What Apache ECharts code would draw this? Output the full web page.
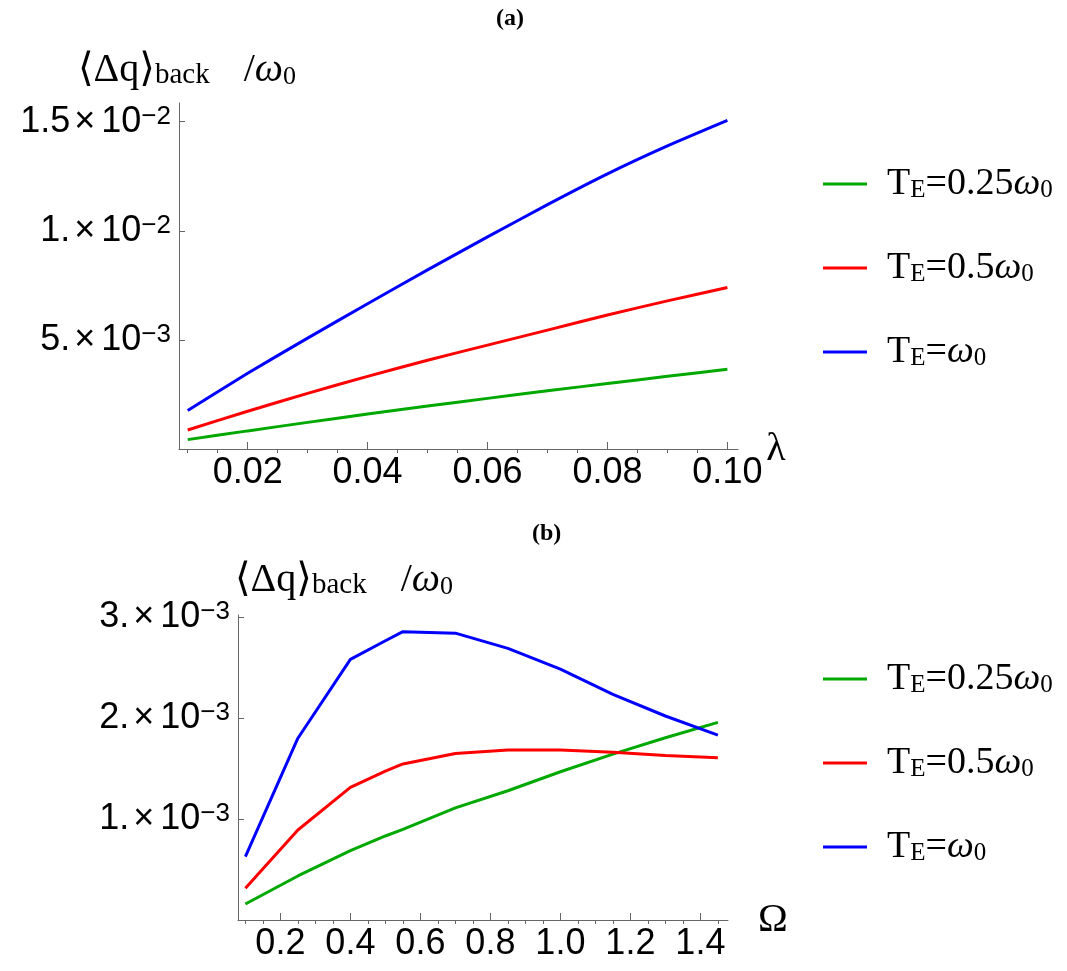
<!DOCTYPE html>
<html>
<head>
<meta charset="utf-8">
<title>Back-action displacement vs coupling and frequency</title>
<script src="https://cdn.jsdelivr.net/npm/echarts@6.0.0/dist/echarts.min.js"></script>
<style>
  html, body { margin: 0; padding: 0; background: #ffffff; }
  #chart { width: 1067px; height: 971px; }
</style>
</head>
<body>
<div id="chart"></div>
<script>
// ---------- data ----------
// panel (a): coupling strength lambda
const lambdaVals = [0.01, 0.02, 0.03, 0.04, 0.05, 0.06, 0.07, 0.08, 0.09, 0.10];
// <dq>_back / omega_0, in units of 1e-3
const dqA_TE025 = [0.43, 0.83, 1.22, 1.60, 1.97, 2.32, 2.67, 3.00, 3.33, 3.66];
const dqA_TE05  = [0.87, 1.73, 2.55, 3.33, 4.07, 4.76, 5.45, 6.14, 6.79, 7.40];
const dqA_TE1   = [1.76, 3.47, 5.08, 6.66, 8.21, 9.72, 11.20, 12.61, 13.89, 15.06];

// panel (b): frequency Omega
const omegaVals = [0.10, 0.25, 0.40, 0.50, 0.55, 0.70, 0.85, 1.00, 1.15, 1.30, 1.45];
const dqB_TE025 = [0.158, 0.436, 0.686, 0.832, 0.898, 1.110, 1.280, 1.468, 1.643, 1.805, 1.957];
const dqB_TE05  = [0.314, 0.891, 1.314, 1.475, 1.545, 1.648, 1.683, 1.683, 1.660, 1.630, 1.607];
const dqB_TE1   = [0.627, 1.800, 2.580, 2.765, 2.855, 2.840, 2.690, 2.485, 2.235, 2.020, 1.830];

const Y_UNIT = 1e-3;

// series names and the temperature coefficient shown in the legend
const teNames = ['T_E=0.25ω_0', 'T_E=0.5ω_0', 'T_E=ω_0'];
const teCoef  = ['0.25', '0.5', ''];
const teColors = ['#00a800', '#ff0000', '#0000ff'];

// tick values and labels
const xTickA  = [0.02, 0.04, 0.06, 0.08, 0.10];
const xMinorA = [0.010, 0.015, 0.025, 0.030, 0.035, 0.045, 0.050, 0.055,
                 0.065, 0.070, 0.075, 0.085, 0.090, 0.095];
const yTickA  = [0.005, 0.010, 0.015];
const yMantA  = ['5.', '1.', '1.5'];
const yExpA   = ['−3', '−2', '−2'];

const xTickB  = [0.2, 0.4, 0.6, 0.8, 1.0, 1.2, 1.4];
const xMinorB = [0.10, 0.15, 0.25, 0.30, 0.35, 0.45, 0.50, 0.55, 0.65, 0.70, 0.75,
                 0.85, 0.90, 0.95, 1.05, 1.10, 1.15, 1.25, 1.30, 1.35, 1.45];
const yTickB  = [0.001, 0.002, 0.003];
const yMantB  = ['1.', '2.', '3.'];
const yExpB   = ['−3', '−3', '−3'];

// ---------- styling helpers ----------
const SERIF = '"Liberation Serif", "Times New Roman", "DejaVu Serif", serif';
const SANS  = '"Liberation Sans", Arial, sans-serif';
const AXIS_COLOR = '#666666';

const tickRich = {
  m: { fontFamily: SANS, fontSize: 36, lineHeight: 36, verticalAlign: 'bottom', color: '#000' },
  x: { fontFamily: SANS, fontSize: 36, lineHeight: 36, verticalAlign: 'bottom', color: '#000', padding: [0, 6, 0, 4] },
  s: { fontFamily: SANS, fontSize: 26, lineHeight: 18, verticalAlign: 'top', color: '#000' }
};

function sciFormatter(ticks, mant, exps) {
  return function (v) {
    const i = ticks.findIndex(t => Math.abs(t - v) < 1e-9);
    if (i < 0) return '';
    return '{m|' + mant[i] + '}{x|×}{m|10}{s|' + exps[i] + '}';
  };
}

const nameBase = { fontFamily: SERIF, fontWeight: 'normal', color: '#000', verticalAlign: 'bottom' };
const nameRich = {
  n:  Object.assign({}, nameBase, { fontSize: 40, lineHeight: 40 }),
  b:  Object.assign({}, nameBase, { fontSize: 29, lineHeight: 29 }),
  sl: Object.assign({}, nameBase, { fontSize: 40, lineHeight: 40, padding: [0, 0, 0, 34] }),
  w:  Object.assign({}, nameBase, { fontSize: 40, lineHeight: 40, fontStyle: 'italic' }),
  z:  Object.assign({}, nameBase, { fontSize: 26, lineHeight: 22 })
};
const yNameText = '{n|⟨Δq⟩}{b|back}{sl|/}{w|ω}{z|0}';

const legendRich = {
  t: { fontFamily: SERIF, fontSize: 38, lineHeight: 38, verticalAlign: 'bottom', color: '#000', padding: [0, 0, 0, 15] },
  m: { fontFamily: SERIF, fontSize: 38, lineHeight: 38, verticalAlign: 'bottom', color: '#000' },
  w: { fontFamily: SERIF, fontSize: 38, lineHeight: 38, verticalAlign: 'bottom', fontStyle: 'italic', color: '#000' },
  sub: { fontFamily: SERIF, fontSize: 25, lineHeight: 15, verticalAlign: 'bottom', color: '#000' }
};
function legendFormatter(name) {
  const c = teCoef[teNames.indexOf(name)];
  return '{t|T}{sub|E}{m|=' + c + '}{w|ω}{sub|0}';
}

function mainXAxis(gridIndex, min, max, ticks, digits, name, nameGap) {
  return {
    type: 'value', gridIndex, min, max,
    name, nameLocation: 'end', nameGap,
    nameTextStyle: { fontFamily: SERIF, fontSize: 40, color: '#000', verticalAlign: 'middle' },
    axisLine: { show: true, onZero: false, lineStyle: { color: AXIS_COLOR, width: 1 } },
    axisTick: { show: true, inside: true, length: 7, customValues: ticks,
                lineStyle: { color: AXIS_COLOR, width: 1 } },
    axisLabel: { show: true, customValues: ticks, margin: 6,
                 fontFamily: SANS, fontSize: 36, color: '#000',
                 formatter: v => v.toFixed(digits) },
    splitLine: { show: false }
  };
}
function minorXAxis(gridIndex, min, max, minors) {
  return {
    type: 'value', gridIndex, min, max,
    axisLine: { show: false },
    axisTick: { show: true, inside: true, length: 4, customValues: minors,
                lineStyle: { color: AXIS_COLOR, width: 1 } },
    axisLabel: { show: false },
    splitLine: { show: false }
  };
}
function mainYAxis(gridIndex, max, ticks, mant, exps) {
  return {
    type: 'value', gridIndex, min: 0, max,
    axisLine: { show: true, onZero: false, lineStyle: { color: AXIS_COLOR, width: 1 } },
    axisTick: { show: true, inside: true, length: 6, customValues: ticks,
                lineStyle: { color: AXIS_COLOR, width: 1 } },
    axisLabel: { show: true, customValues: ticks, margin: 8,
                 formatter: sciFormatter(ticks, mant, exps), rich: tickRich },
    splitLine: { show: false }
  };
}

function lineSeries(name, color, xIdx, yIdx, xs, ys, smooth) {
  return {
    name, type: 'line', xAxisIndex: xIdx, yAxisIndex: yIdx,
    data: xs.map((x, i) => [x, ys[i] * Y_UNIT]),
    showSymbol: false, symbol: 'none', smooth,
    lineStyle: { color, width: 3 }, itemStyle: { color },
    emphasis: { disabled: true }
  };
}

// ---------- chart ----------
const chart = echarts.init(document.getElementById('chart'), null, { renderer: 'canvas' });

const panelTitleStyle = { fontFamily: SERIF, fontSize: 24, fontWeight: 'bold', color: '#000' };

const option = {
  backgroundColor: '#ffffff',
  animation: false,
  title: [
    { text: '(a)', left: 491, top: 2, textStyle: panelTitleStyle },
    { text: '(b)', left: 527, top: 517, textStyle: panelTitleStyle },
    { text: yNameText, left: 78, top: 50, padding: 0, textStyle: { fontWeight: 'normal', rich: nameRich } },
    { text: yNameText, left: 235, top: 560, padding: 0, textStyle: { fontWeight: 'normal', rich: nameRich } }
  ],
  legend: [
    { orient: 'vertical', left: 823, top: 165, padding: 0, itemGap: 46,
      itemWidth: 44, itemHeight: 3, icon: 'rect', data: teNames,
      formatter: legendFormatter, textStyle: { rich: legendRich }, selectedMode: false },
    { orient: 'vertical', left: 823, top: 660, padding: 0, itemGap: 46,
      itemWidth: 44, itemHeight: 3, icon: 'rect', data: teNames,
      formatter: legendFormatter, textStyle: { rich: legendRich }, selectedMode: false }
  ],
  grid: [
    { left: 179, top: 103, right: 329, bottom: 522, containLabel: false },
    { left: 238, top: 615, right: 339, bottom: 51, containLabel: false }
  ],
  xAxis: [
    mainXAxis(0, 0.00855, 0.10177, xTickA, 2, 'λ', 7),
    minorXAxis(0, 0.00855, 0.10177, xMinorA),
    mainXAxis(1, 0.0789, 1.4789, xTickB, 1, 'Ω', 30),
    minorXAxis(1, 0.0789, 1.4789, xMinorB)
  ],
  yAxis: [
    mainYAxis(0, 0.015858, yTickA, yMantA, yExpA),
    mainYAxis(1, 0.00302, yTickB, yMantB, yExpB)
  ],
  series: [
    lineSeries(teNames[0], teColors[0], 0, 0, lambdaVals, dqA_TE025, 0.2),
    lineSeries(teNames[1], teColors[1], 0, 0, lambdaVals, dqA_TE05, 0.2),
    lineSeries(teNames[2], teColors[2], 0, 0, lambdaVals, dqA_TE1, 0.2),
    lineSeries(teNames[0], teColors[0], 2, 1, omegaVals, dqB_TE025, false),
    lineSeries(teNames[1], teColors[1], 2, 1, omegaVals, dqB_TE05, false),
    lineSeries(teNames[2], teColors[2], 2, 1, omegaVals, dqB_TE1, false)
  ]
};

chart.setOption(option);
</script>
</body>
</html>
